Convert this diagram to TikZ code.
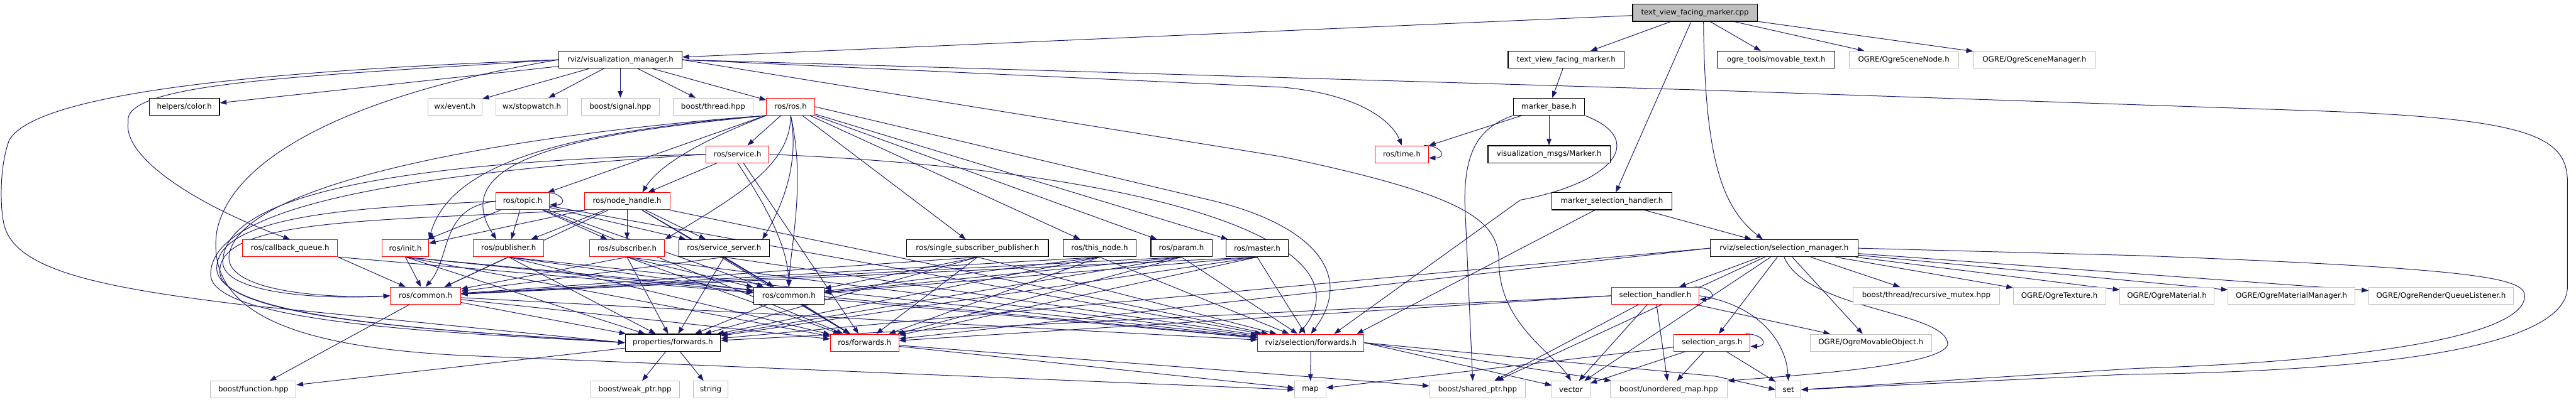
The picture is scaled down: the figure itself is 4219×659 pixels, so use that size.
\documentclass[tikz,border=0pt]{standalone}
\usepackage{fontspec}
\setmainfont{DejaVu Sans}
\usepackage{tikz}
\usetikzlibrary{arrows.meta}
\pgfdeclarelayer{edges}
\pgfsetlayers{edges,main}
\definecolor{edgeblue}{HTML}{191970}
\definecolor{extgrey}{HTML}{BFBFBF}

\begin{document}
\begin{tikzpicture}[x=1pt,y=-1pt,
  box/.style={draw=black,fill=white,line width=1.2pt,minimum height=28pt,inner sep=0pt,font=\fontsize{12.2}{14}\selectfont},
  root/.style={box,fill=extgrey},
  trunc/.style={box,draw=red,line width=1pt},
  ext/.style={box,draw=extgrey,line width=1pt},
  arr/.style={-{Triangle[length=11pt,width=8pt]},line width=1pt,edgeblue}]
\path[use as bounding box] (0,0) rectangle (4219,659);
\node[root,minimum width=204pt] (cpp) at (2776,21) {text\_view\_facing\_marker.cpp};
\node[box,minimum width=202pt] (vizmgr) at (1016,98) {rviz/visualization\_manager.h};
\node[box,minimum width=190pt] (tvfmh) at (2565,98) {text\_view\_facing\_marker.h};
\node[box,minimum width=193pt] (movtext) at (2909,98) {ogre\_tools/movable\_text.h};
\node[ext,minimum width=179pt] (scenenode) at (3118,98) {OGRE/OgreSceneNode.h};
\node[ext,minimum width=200pt] (scenemgr) at (3332,98) {OGRE/OgreSceneManager.h};
\node[box,minimum width=115pt] (color) at (302,175) {helpers/color.h};
\node[ext,minimum width=89pt] (wxevent) at (745,175) {wx/event.h};
\node[ext,minimum width=118pt] (wxstop) at (871,175) {wx/stopwatch.h};
\node[ext,minimum width=127pt] (bsignal) at (1016,175) {boost/signal.hpp};
\node[ext,minimum width=131pt] (bthread) at (1168,175) {boost/thread.hpp};
\node[trunc,minimum width=79pt] (rosros) at (1295,175) {ros/ros.h};
\node[box,minimum width=117pt] (mbase) at (2537,175) {marker\_base.h};
\node[trunc,minimum width=103pt] (service) at (1208,253) {ros/service.h};
\node[trunc,minimum width=87pt] (rostime) at (2296,253) {ros/time.h};
\node[box,minimum width=200pt] (vmarker) at (2537,253) {visualization\_msgs/Marker.h};
\node[trunc,minimum width=88pt] (topic) at (856,330) {ros/topic.h};
\node[trunc,minimum width=140pt] (nodeh) at (1027,330) {ros/node\_handle.h};
\node[box,minimum width=197pt] (mselh) at (2640,330) {marker\_selection\_handler.h};
\node[trunc,minimum width=156pt] (cbq) at (475,407) {ros/callback\_queue.h};
\node[trunc,minimum width=76pt] (init) at (664,407) {ros/init.h};
\node[trunc,minimum width=115pt] (pub) at (833,407) {ros/publisher.h};
\node[trunc,minimum width=123pt] (sub) at (1027,407) {ros/subscriber.h};
\node[box,minimum width=148pt] (srvsrv) at (1186,407) {ros/service\_server.h};
\node[box,minimum width=232pt] (ssp) at (1601,407) {ros/single\_subscriber\_publisher.h};
\node[box,minimum width=120pt] (thisnode) at (1801,407) {ros/this\_node.h};
\node[box,minimum width=100pt] (param) at (1935,407) {ros/param.h};
\node[box,minimum width=102pt] (master) at (2059,407) {ros/master.h};
\node[box,minimum width=242pt] (selmgr) at (2922,407) {rviz/selection/selection\_manager.h};
\node[trunc,minimum width=115pt] (commonr) at (697,485) {ros/common.h};
\node[box,minimum width=115pt] (commonb) at (1292,485) {ros/common.h};
\node[trunc,minimum width=144pt] (selh) at (2711,485) {selection\_handler.h};
\node[ext,minimum width=240pt] (mutex) at (3155,485) {boost/thread/recursive\_mutex.hpp};
\node[ext,minimum width=151pt] (ogretex) at (3373,485) {OGRE/OgreTexture.h};
\node[ext,minimum width=154pt] (ogremat) at (3549,485) {OGRE/OgreMaterial.h};
\node[ext,minimum width=208pt] (ogrematmgr) at (3753,485) {OGRE/OgreMaterialManager.h};
\node[ext,minimum width=237pt] (ogrerql) at (3998,485) {OGRE/OgreRenderQueueListener.h};
\node[box,minimum width=156pt] (propfwd) at (1102,562) {properties/forwards.h};
\node[trunc,minimum width=112pt] (rosfwd) at (1416,562) {ros/forwards.h};
\node[trunc,minimum width=174pt] (selfwd) at (2147,562) {rviz/selection/forwards.h};
\node[trunc,minimum width=125pt] (selargs) at (2804,562) {selection\_args.h};
\node[ext,minimum width=199pt] (movobj) at (3064,562) {OGRE/OgreMovableObject.h};
\node[ext,minimum width=140pt] (func) at (415,639) {boost/function.hpp};
\node[ext,minimum width=145pt] (weakptr) at (1040,639) {boost/weak\_ptr.hpp};
\node[ext,minimum width=57pt] (string) at (1164,639) {string};
\node[ext,minimum width=51pt] (map) at (2146,639) {map};
\node[ext,minimum width=157pt] (sharedptr) at (2420,639) {boost/shared\_ptr.hpp};
\node[ext,minimum width=62pt] (vector) at (2573,639) {vector};
\node[ext,minimum width=192pt] (unordered) at (2733,639) {boost/unordered\_map.hpp};
\node[ext,minimum width=41pt] (set) at (2929,639) {set};
\begin{pgfonlayer}{edges}
\fill[white] (0,0) rectangle (4219,659);
\draw[arr] (cpp) -- (vizmgr); \draw[arr] (cpp) -- (tvfmh); \draw[arr] (cpp) -- (movtext);
\draw[arr] (cpp) -- (scenenode); \draw[arr] (cpp) -- (scenemgr); \draw[arr] (cpp) -- (mselh);
\draw[arr] ([xshift=14pt]cpp.south) .. controls (2792,260) and (2820,340) .. ([xshift=-35pt]selmgr.north);
\draw[arr] (tvfmh) -- (mbase); \draw[arr] (mbase) -- (rostime); \draw[arr] (mbase) -- (vmarker);
\draw[arr] (mbase.south west) .. controls (2420,210) and (2399,250) .. (2399,330) -- ([xshift=-8pt]sharedptr.north);
\draw[arr] (mbase.south east) .. controls (2700,230) and (2640,300) .. (2490,328) -- ([xshift=38pt]selfwd.north);
\draw[arr] ([xshift=-8pt]rostime.north east) to[out=0,in=0,looseness=3.5] ([yshift=-6pt]rostime.east);
\draw[arr] (mselh) -- (selmgr); \draw[arr] (mselh) -- ([xshift=75pt]selfwd.north);
\draw[arr] (vizmgr) -- (color); \draw[arr] (vizmgr) -- (wxevent); \draw[arr] (vizmgr) -- (wxstop);
\draw[arr] (vizmgr) -- (bsignal); \draw[arr] (vizmgr) -- (bthread); \draw[arr] (vizmgr) -- (rosros);
\draw[arr] (vizmgr.east) -- (2100,143) .. controls (2230,155) and (2280,200) .. (rostime.north);
\draw[arr] (vizmgr.east) -- (2100,257) .. controls (2400,320) and (2455,360) .. (2455,430) .. controls (2455,530) and (2545,580) .. (vector.north);
\draw[arr] (vizmgr.east) -- (2800,148) -- (3800,182) .. controls (4150,195) and (4205,225) .. (4205,300) -- (4205,470) .. controls (4205,585) and (3800,610) .. (3480,614) -- (set.east);
\draw[arr] (vizmgr.west) .. controls (500,125) and (200,135) .. (210,200) .. controls (200,260) and (330,340) .. (cbq.north);
\draw[arr] (vizmgr.west) .. controls (450,115) and (60,150) .. (15,230) .. controls (0,270) and (0,330) .. (5,360) .. controls (15,440) and (150,470) .. (400,500) .. controls (600,520) and (800,540) .. (propfwd.west);
\draw[arr] (vizmgr.west) .. controls (600,150) and (380,250) .. (355,380) .. controls (335,520) and (500,570) .. (760,583) -- (map.west);
\draw[arr] (rosros) -- (service); \draw[arr] (rosros) -- (topic);
\draw[arr] (rosros.south west) .. controls (1150,230) and (1080,270) .. ([xshift=25pt]nodeh.north);
\draw[arr] (rosros.south west) .. controls (1000,215) and (720,250) .. ([xshift=-20pt]pub.north);
\draw[arr] (rosros.south west) .. controls (950,215) and (740,260) .. (init.north east);
\draw[arr] (rosros.south) .. controls (1295,270) and (1210,320) .. (sub.north east);
\draw[arr] (rosros.south) .. controls (1310,270) and (1280,340) .. ([xshift=-12pt]srvsrv.north east);
\draw[arr] (rosros.south) .. controls (1320,300) and (1295,400) .. (commonb.north);
\draw[arr] (rosros) -- (ssp); \draw[arr] (rosros) -- (thisnode); \draw[arr] (rosros) -- (param); \draw[arr] (rosros) -- (master);
\draw[arr] (rosros.east) -- (1990,330) .. controls (2150,370) and (2220,450) .. (selfwd.north);
\draw[arr] (rosros.south west) .. controls (900,215) and (390,290) .. (375,420) .. controls (370,475) and (520,490) .. (commonr.west);
\draw[arr] (service) -- (nodeh); \draw[arr] (service) -- (rosfwd);
\draw[arr] (service.west) .. controls (650,265) and (365,320) .. (365,430) .. controls (365,480) and (520,492) .. (commonr.west);
\draw[arr] (service.west) .. controls (650,285) and (345,340) .. (345,450) .. controls (345,535) and (800,548) .. (propfwd.west);
\draw[arr] (service.south) .. controls (1250,330) and (1290,400) .. (commonb.north);
\draw[arr] (service.east) .. controls (1900,280) and (2250,400) .. ([xshift=-20pt]selfwd.north);
\draw[arr] (nodeh) -- (pub); \draw[arr] (nodeh) -- (sub); \draw[arr] (nodeh) -- (srvsrv); \draw[arr] (nodeh) -- (init);
\draw[arr] (nodeh.south west) .. controls (600,362) and (360,360) .. (360,445) .. controls (360,530) and (800,545) .. (propfwd.west);
\draw[arr] (nodeh) -- (commonr); \draw[arr] (nodeh) -- (commonb); \draw[arr] (nodeh) -- (rosfwd); \draw[arr] (nodeh) -- (selfwd);
\draw[arr] ([xshift=-8pt]topic.north east) to[out=0,in=0,looseness=3.5] ([yshift=-6pt]topic.east);
\draw[arr] (topic) -- (pub); \draw[arr] (topic) -- (sub); \draw[arr] (topic) -- (srvsrv); \draw[arr] (topic) -- (init);
\draw[arr] (topic.west) .. controls (720,340) and (740,420) .. (commonr.north);
\draw[arr] (topic.west) .. controls (600,340) and (355,350) .. (355,440) .. controls (355,530) and (800,545) .. (propfwd.west);
\draw[arr] (topic) -- (commonb); \draw[arr] (topic) -- (rosfwd); \draw[arr] (topic) -- (selfwd);
\draw[arr] (cbq.south east) -- (commonr); \draw[arr] (cbq.south east) -- (commonb);
\draw[arr] (init.south) -- (commonr); \draw[arr] (init.south) -- (commonb); \draw[arr] (init.south) -- (propfwd); \draw[arr] (init.south) -- (rosfwd); \draw[arr] (init.south) -- (selfwd);
\draw[arr] (pub.south) -- (commonr); \draw[arr] (pub.south) -- (commonb); \draw[arr] (pub.south) -- (propfwd); \draw[arr] (pub.south) -- (rosfwd); \draw[arr] (pub.south) -- (selfwd);
\draw[arr] (sub.south) -- (commonr); \draw[arr] (sub.south) -- (commonb); \draw[arr] (sub.south) -- (propfwd); \draw[arr] (sub.south) -- (rosfwd); \draw[arr] (sub.south) -- (selfwd);
\draw[arr] (srvsrv.south) -- (commonr); \draw[arr] (srvsrv.south) -- (commonb); \draw[arr] (srvsrv.south) -- (propfwd); \draw[arr] (srvsrv.south) -- (rosfwd); \draw[arr] (srvsrv.south) -- (selfwd);
\draw[arr] (ssp.south) -- (commonr); \draw[arr] (ssp.south) -- (commonb); \draw[arr] (ssp.south) -- (propfwd); \draw[arr] (ssp.south) -- (rosfwd); \draw[arr] (ssp.south) -- (selfwd);
\draw[arr] (thisnode.south) -- (commonr); \draw[arr] (thisnode.south) -- (commonb); \draw[arr] (thisnode.south) -- (propfwd); \draw[arr] (thisnode.south) -- (rosfwd); \draw[arr] (thisnode.south) -- (selfwd);
\draw[arr] (param.south) -- (commonr); \draw[arr] (param.south) -- (commonb); \draw[arr] (param.south) -- (propfwd); \draw[arr] (param.south) -- (rosfwd); \draw[arr] (param.south) -- (selfwd);
\draw[arr] (master.south) -- (commonr); \draw[arr] (master.south) -- (commonb); \draw[arr] (master.south) -- (propfwd); \draw[arr] (master.south) -- (rosfwd); \draw[arr] (master.south) -- (selfwd);
\draw[arr] (commonr) -- (func); \draw[arr] (commonr) -- (propfwd); \draw[arr] (commonr) -- (rosfwd); \draw[arr] (commonr) -- (selfwd);
\draw[arr] (commonb) -- (propfwd); \draw[arr] (commonb) -- (rosfwd); \draw[arr] (commonb) -- (selfwd);
\draw[arr] (propfwd) -- (func); \draw[arr] (propfwd) -- (weakptr); \draw[arr] (propfwd) -- (string);
\draw[arr] (rosfwd) -- (map); \draw[arr] (rosfwd) -- (sharedptr);
\draw[arr] (selfwd) -- (map); \draw[arr] (selfwd.east) -- (vector); \draw[arr] (selfwd.east) -- (unordered);
\draw[arr] (selfwd.east) -- (2810,617) -- (set.west);
\draw[arr] (selmgr) -- (mutex); \draw[arr] (selmgr) -- (ogretex); \draw[arr] (selmgr) -- (ogremat);
\draw[arr] (selmgr) -- (ogrematmgr); \draw[arr] (selmgr) -- (ogrerql);
\draw[arr] (selmgr) -- (selh); \draw[arr] (selmgr) -- (selargs); \draw[arr] (selmgr) -- (movobj);
\draw[arr] (selmgr) -- (vector); \draw[arr] (selmgr) -- (sharedptr);
\draw[arr] (selmgr.west) -- (propfwd); \draw[arr] (selmgr.west) -- (rosfwd);
\draw[arr] (selmgr.south) .. controls (2960,510) and (3190,510) .. (3190,565) .. controls (3180,600) and (2950,615) .. (unordered.north east);
\draw[arr] (selmgr.east) -- (3500,419) .. controls (4050,440) and (4135,455) .. (4135,485) .. controls (4135,560) and (3800,595) .. (3500,604) -- (set.east);
\draw[arr] ([xshift=-8pt]selh.north east) to[out=0,in=0,looseness=3.5] ([yshift=-6pt]selh.east);
\draw[arr] (selh.west) -- (propfwd); \draw[arr] (selh.west) -- (rosfwd);
\draw[arr] (selh) -- (movobj); \draw[arr] (selh) -- (vector); \draw[arr] (selh) -- (sharedptr); \draw[arr] (selh) -- (unordered);
\draw[arr] (selh.east) .. controls (2880,500) and (2925,560) .. (set.north);
\draw[arr] ([xshift=-8pt]selargs.north east) to[out=0,in=0,looseness=3.5] ([yshift=-6pt]selargs.east);
\draw[arr] (selargs) -- (map); \draw[arr] (selargs) -- (vector); \draw[arr] (selargs) -- (unordered); \draw[arr] (selargs) -- (set);
\end{pgfonlayer}
\end{tikzpicture}
\end{document}
